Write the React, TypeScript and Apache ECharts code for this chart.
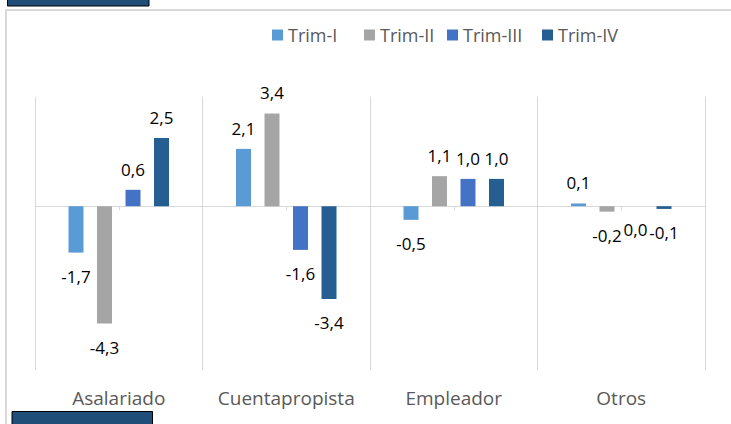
import React, { useEffect, useRef } from "react";
import * as echarts from "echarts";

const categories = ["Asalariado", "Cuentapropista", "Empleador", "Otros"];
const seriesNames = ["Trim-I", "Trim-II", "Trim-III", "Trim-IV"];
const trimI = [-1.7, 2.1, -0.5, 0.1];
const trimII = [-4.3, 3.4, 1.1, -0.2];
const trimIII = [0.6, -1.6, 1.0, 0.0];
const trimIV = [2.5, -3.4, 1.0, -0.1];
const colors = ["#5B9BD5", "#A5A5A5", "#4472C4", "#255E91"];
const legendLefts = [267, 359, 442, 537];

const FONT = "Open Sans";

function toItems(values: number[]) {
  return values.map((v) => ({
    value: v,
    label: {
      position: v > 0 ? "top" : "bottom",
      distance: v > 0 ? 12 : 15,
    },
  }));
}

export default function App() {
  const ref = useRef<HTMLDivElement>(null);
  useEffect(() => {
    if (!ref.current) return;
    const chart = echarts.init(ref.current, null, { renderer: "svg" });
    const allValues = [trimI, trimII, trimIII, trimIV];
    chart.setOption({
      animation: false,
      backgroundColor: "#ffffff",
      textStyle: { fontFamily: FONT },
      grid: { left: 35, right: 26, top: 97, bottom: 54, containLabel: false },
      legend: seriesNames.map((n, i) => ({
        data: [n],
        left: legendLefts[i],
        top: 21,
        icon: "rect",
        itemWidth: 11,
        itemHeight: 11,
        itemGap: 0,
        textStyle: { color: "#595959", fontSize: 18, fontFamily: FONT },
      })),
      xAxis: [
        {
          type: "category",
          data: categories,
          position: "bottom",
          axisLine: { show: false, onZero: false },
          axisTick: { show: false },
          axisLabel: {
            show: true,
            interval: 0,
            color: "#595959",
            fontSize: 19,
            fontFamily: FONT,
            margin: 18,
          },
          splitLine: {
            show: true,
            interval: 0,
            lineStyle: { color: "#d9d9d9", width: 1 },
          },
        },
        {
          type: "category",
          data: categories,
          position: "top",
          axisLine: { show: true, onZero: true, lineStyle: { color: "#d9d9d9", width: 1 } },
          axisTick: {
            show: true,
            interval: 0,
            alignWithLabel: true,
            inside: true,
            length: 4,
            lineStyle: { color: "#d9d9d9" },
          },
          axisLabel: { show: false, interval: 0 },
          splitLine: { show: false },
        },
      ],
      yAxis: {
        type: "value",
        min: -6,
        max: 4,
        interval: 2,
        show: false,
        splitLine: { show: false },
      },
      graphic: [
        {
          type: "rect",
          shape: { x: 6, y: 10, width: 800, height: 500 },
          style: { fill: "none", stroke: "#d9d9d9", lineWidth: 2 },
          silent: true,
        },
        {
          type: "rect",
          shape: { x: 7.5, y: -2, width: 141.5, height: 8 },
          style: { fill: "#1F4E79", stroke: "#000", lineWidth: 1 },
          silent: true,
        },
        {
          type: "rect",
          shape: { x: 12, y: 411.5, width: 140.5, height: 20 },
          style: { fill: "#1F4E79", stroke: "#000", lineWidth: 1 },
          silent: true,
        },
      ],
      series: seriesNames.map((name, i) => ({
        name,
        type: "bar",
        xAxisIndex: 0,
        yAxisIndex: 0,
        barWidth: 15,
        barGap: "90%",
        itemStyle: { color: colors[i] },
        label: {
          show: true,
          color: "#000",
          fontSize: 17,
          fontFamily: FONT,
          formatter: (p: any) => Number(p.value).toFixed(1).replace(".", ","),
        },
        data: toItems(allValues[i]),
      })),
    });
    return () => chart.dispose();
  }, []);
  return (
    <div
      ref={ref}
      style={{ position: "absolute", left: 0, top: 0, width: 731, height: 424 }}
    />
  );
}
